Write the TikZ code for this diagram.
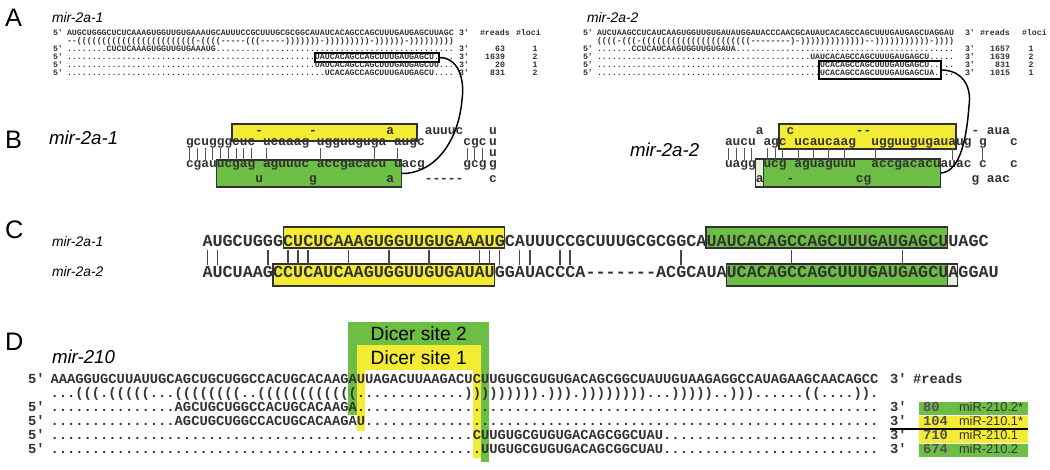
\documentclass[tikz,border=0pt]{standalone}
\usepackage{fontspec}
\setmainfont{Liberation Sans}
\setmonofont{Liberation Mono}
\usepackage{tikz}
\usetikzlibrary{positioning,fit}
\definecolor{mirYellow}{RGB}{244,236,52}
\definecolor{mirGreen}{RGB}{109,190,69}
\definecolor{mirPale}{RGB}{233,240,217}
\definecolor{seqInk}{RGB}{50,50,50}
\definecolor{bondInk}{RGB}{85,85,85}
\ExplSyntaxOn
\NewExpandableDocumentCommand\rpt{mm}{\prg_replicate:nn{#1}{#2}}
\ExplSyntaxOff

\begin{document}
\begin{tikzpicture}[x=0.75pt,y=0.75pt,yscale=-1,xscale=1,
  every node/.style={inner sep=0pt,outer sep=0pt},
  tag/.style={font=\fontsize{19pt}{21pt}\selectfont,anchor=west},
  mirname/.style={font=\fontsize{10.4pt}{12pt}\selectfont\itshape,anchor=west},
  bigname/.style={font=\fontsize{14pt}{16pt}\selectfont\itshape,anchor=west},
  aseq/.style={font=\fontsize{6.2pt}{7pt}\selectfont\ttfamily\bfseries,text=seqInk,anchor=base west},
  bseq/.style={font=\fontsize{9.63pt}{11pt}\selectfont\ttfamily\bfseries,text=seqInk,anchor=base west},
  cseq/.style={font=\fontsize{12.6pt}{14pt}\selectfont\ttfamily\bfseries,text=seqInk,anchor=base west},
  dseq/.style={font=\fontsize{10.35pt}{12pt}\selectfont\ttfamily\bfseries,text=seqInk,anchor=base west},
  mirlab/.style={font=\fontsize{9.6pt}{11pt}\selectfont,text=seqInk,anchor=base west},
  readbox/.style={draw=black,line width=1pt},
  hairbox/.style={draw=seqInk,line width=0.9pt},
  bond/.style={draw=bondInk,line width=0.8pt},
  cbond/.style={draw=seqInk!90,line width=1.15pt},
  link/.style={draw=black,line width=1.1pt},
]
\useasboundingbox (0,0) rectangle (1050,469);

%%%%%%%%%%%%%%%% A
% Text Node
\node[tag] (tagA) at (5,18) {A};
\node[mirname] (nameA1) at (52,18) {mir-2a-1};
\node[mirname] (nameA2) at (587,18) {mir-2a-2};
%Shape: Rectangle
\node[readbox,fit={(315,53) (439,62)}] (boxAl) {};
\node[readbox,fit={(819,61) (941,79)}] (boxAr) {};

% left alignment
\node[aseq] (al5) at (53,35.4) {5'};
\node[aseq] (alS) at (67,35.4) {AUGCUGGGCUCUCAAAGUGGUUGUGAAAUGCAUUUCCGCUUUGCGCGGCAUAUCACAGCCAGCUUUGAUGAGCUUAGC};
\node[aseq] (al3) at (459,35.4) {3'};
\node[aseq] (alReads) at (480,35.4) {\#reads};
\node[aseq] (alLoci) at (516,35.4) {\#loci};
\node[aseq] (alB) at (67,43.4) {\rpt{2}{-}\rpt{24}{(}-\rpt{4}{(}\rpt{5}{-}\rpt{3}{(}\rpt{5}{-}\rpt{7}{)}-\rpt{9}{)}-\rpt{6}{)}-\rpt{9}{)}};
\foreach \y/\r/\n/\l [count=\k] in {
  51.4/{\rpt{8}{.}CUCUCAAAGUGGUUGUGAAAUG\rpt{48}{.}}/63/1,
  59.4/{\rpt{50}{.}UAUCACAGCCAGCUUUGAUGAGCU\rpt{4}{.}}/1639/2,
  67.4/{\rpt{50}{.}UAUCACAGCCAGCUUUGAUGAGCUU\rpt{3}{.}}/20/1,
  75.4/{\rpt{52}{.}UCACAGCCAGCUUUGAUGAGCU\rpt{4}{.}}/831/2}{
  \node[aseq] (al5\k) at (53,\y) {5'};
  \node[aseq] (alR\k) at (67,\y) {\r};
  \node[aseq] (al3\k) at (459,\y) {3'};
  \node[aseq,anchor=base east] (alN\k) at (505,\y) {\n};
  \node[aseq,anchor=base] (alL\k) at (535,\y) {\l};
}

% right alignment
\node[aseq] (ar5) at (583,35.4) {5'};
\node[aseq] (arS) at (597,35.4) {AUCUAAGCCUCAUCAAGUGGUUGUGAUAUGGAUACCCAACGCAUAUCACAGCCAGCUUUGAUGAGCUAGGAU};
\node[aseq] (ar3) at (965,35.4) {3'};
\node[aseq] (arReads) at (980,35.4) {\#reads};
\node[aseq] (arLoci) at (1022,35.4) {\#loci};
\node[aseq] (arB) at (597,43.4) {\rpt{4}{(}-\rpt{3}{(}-\rpt{22}{(}\rpt{8}{-})-\rpt{13}{)}--\rpt{11}{)}-\rpt{4}{)}};
\foreach \y/\r/\n/\l [count=\k] in {
  51.4/{\rpt{7}{.}CCUCAUCAAGUGGUUGUGAUA\rpt{44}{.}}/1657/1,
  59.4/{\rpt{43}{.}UAUCACAGCCAGCUUUGAUGAGCU\rpt{5}{.}}/1639/2,
  67.4/{\rpt{45}{.}UCACAGCCAGCUUUGAUGAGCU\rpt{5}{.}}/831/2,
  75.4/{\rpt{45}{.}UCACAGCCAGCUUUGAUGAGCUA\rpt{4}{.}}/1015/1}{
  \node[aseq] (ar5\k) at (583,\y) {5'};
  \node[aseq] (arR\k) at (597,\y) {\r};
  \node[aseq] (ar3\k) at (965,\y) {3'};
  \node[aseq,anchor=base east] (arN\k) at (1010,\y) {\n};
  \node[aseq,anchor=base] (arL\k) at (1031,\y) {\l};
}

%%%%%%%%%%%%%%%% B
% Text Node
\node[tag] (tagB) at (5,140) {B};
\node[bigname] (nameB1) at (49,138) {mir-2a-1};
\node[bigname] (nameB2) at (630,150) {mir-2a-2};
%Shape: Rectangle
\node[hairbox,fill=mirYellow,fit={(232,124) (417,141)}] (yBl) {};
\node[hairbox,fill=mirGreen,fit={(216.8,160) (401.6,187)}] (gBl) {};
\node[hairbox,fill=mirYellow,fit={(779,124) (956,149)}] (yBr) {};
\node[hairbox,fill=mirPale,fit={(755.8,159) (763.5,187)}] (pBr) {};
\node[hairbox,fill=mirGreen,fit={(763.5,159) (940.6,187)}] (gBr) {};
%Straight Lines
\foreach \c in {0,...,8,10,...,15,17,...,25,27,...,30,36,37,38}
  \draw[bond] ({186+(\c+0.5)*7.7},148) -- ({186+(\c+0.5)*7.7},160);
\foreach \c in {0,...,3,5,6,7,9,...,16,19,...,31,33}
  \draw[bond] ({725+(\c+0.5)*7.7},148) -- ({725+(\c+0.5)*7.7},160);
% hairpin mir-2a-1
\node[bseq] (bl1) at (255.3,134.7) {-~~~~~~-~~~~~~~~~a~~~~auuuc};
\node[bseq] (bl2) at (186,145.7) {gcugggcuc~ucaaag~ugguuguga~augc~~~~~cgc};
\node[bseq] (bl3) at (186,167.7) {cgauucgag~aguuuc~accgacacu~uacg~~~~~gcg};
\node[bseq] (bl4) at (255.3,182.7) {u~~~~~~g~~~~~~~~~a~~~~-----};
\node[bseq] (bl5) at (489,134.7) {u};
\node[bseq] (bl6) at (489,145.2) {u};
\node[bseq] (bl7) at (489,156.8) {u};
\node[bseq] (bl8) at (489,167.7) {g};
\node[bseq] (bl9) at (489,182.7) {c};
% hairpin mir-2a-2
\node[bseq] (br1) at (755.8,134.7) {a~~~c~~~~~~~~--~~~~~~~~~~~~~-~aua};
\node[bseq] (br2) at (725,145.7) {aucu~agc~ucaucaag~~ugguugugauaug~g~~~c};
\node[bseq] (br3) at (725,167.7) {uagg~ucg~aguaguuu~~accgacacuauac~c~~~c};
\node[bseq] (br4) at (755.8,182.7) {a~~~-~~~~~~~~cg~~~~~~~~~~~~~g~aac};

% links A -> B
\draw[link] (boxAl.east) .. controls (458,57.5) and (465,78) .. (462,100) .. controls (458,145) and (432,174) .. (gBl.east);
\draw[link] (boxAr.east) .. controls (962,70) and (972,86) .. (969,106) .. controls (966,146) and (958,172) .. (gBr.east);

%%%%%%%%%%%%%%%% C
% Text Node
\node[tag] (tagC) at (5,230) {C};
\node[mirname] (nameC1) at (52,242) {mir-2a-1};
\node[mirname] (nameC2) at (52,272) {mir-2a-2};
%Shape: Rectangle
\node[hairbox,fill=mirYellow,fit={(283.1,227) (504.6,248)}] (yCt) {};
\node[hairbox,fill=mirGreen,fit={(706,227) (947.7,248)}] (gCt) {};
\node[hairbox,fill=mirYellow,fit={(273,264) (494.5,286)}] (yCb) {};
\node[hairbox,fill=mirGreen,fit={(726.1,264) (947.7,286)}] (gCb) {};
\node[hairbox,fill=mirPale,fit={(947.7,264) (957.8,286)}] (pCb) {};
%Straight Lines
\foreach \i in {0,1,6,8,9,10,14,...,25,27,28,29,31,32,35,36,47,...,73}
  \draw[cbond] ({202.5+(\i+0.5)*10.07},250) -- ++(0,15);
\node[cseq] (cTop) at (202.5,246.5) {AUGCUGGGCUCUCAAAGUGGUUGUGAAAUGCAUUUCCGCUUUGCGCGGCAUAUCACAGCCAGCUUUGAUGAGCUUAGC};
\node[cseq] (cBot) at (202.5,277.8) {AUCUAAGCCUCAUCAAGUGGUUGUGAUAUGGAUACCCA-------ACGCAUAUCACAGCCAGCUUUGAUGAGCUAGGAU};

%%%%%%%%%%%%%%%% D
% Text Node
\node[tag] (tagD) at (5,342) {D};
\node[bigname] (nameD) at (52,357) {mir-210};
%Shape: Dicer sites
\fill[mirGreen] (348.4,322) rectangle (489,345);
\fill[mirGreen] (348.4,345) rectangle (356.7,415);
\fill[mirGreen] (480.8,345) rectangle (489,462);
\fill[mirYellow] (356.7,345) rectangle (480.8,370);
\fill[mirYellow] (356.7,370) rectangle (364.9,431);
\fill[mirYellow] (472.5,370) rectangle (480.8,458);
\node[font=\fontsize{14.4pt}{16pt}\selectfont] (dicer2) at (418.7,333.5) {Dicer site 2};
\node[font=\fontsize{14.4pt}{16pt}\selectfont] (dicer1) at (418.7,357.5) {Dicer site 1};
% table of reads
\node[fill=mirGreen,draw=white,line width=0.4pt,fit={(918,401) (1028,415)}] (t1) {};
\node[fill=mirYellow,draw=white,line width=0.4pt,fit={(918,415) (1028,429)}] (t2) {};
\node[fill=mirYellow,draw=white,line width=0.4pt,fit={(918,429) (1028,443)}] (t3) {};
\node[fill=mirGreen,draw=white,line width=0.4pt,fit={(918,443) (1028,457)}] (t4) {};
% alignment
\node[dseq] (d5) at (28,383.9) {5'};
\node[dseq] (dS) at (50.5,383.9) {AAAGGUGCUUAUUGCAGCUGCUGGCCACUGCACAAGAUUAGACUUAAGACUCUUGUGCGUGUGACAGCGGCUAUUGUAAGAGGCCAUAGAAGCAACAGCC};
\node[dseq] (d3) at (890,383.9) {3'};
\node[dseq] (dReads) at (913,383.9) {\#reads};
\node[dseq] (dB) at (50.5,397.9) {\rpt{3}{.}\rpt{3}{(}.\rpt{5}{(}\rpt{3}{.}\rpt{8}{(}..\rpt{12}{(}\rpt{13}{.}\rpt{9}{)}.\rpt{3}{)}.\rpt{8}{)}\rpt{3}{.}\rpt{5}{)}..\rpt{3}{)}\rpt{6}{.}((\rpt{4}{.})).};
\foreach \y/\r/\n/\m [count=\k] in {
  411.9/{\rpt{15}{.}AGCUGCUGGCCACUGCACAAGA\rpt{63}{.}}/80/miR-210.2*,
  425.9/{\rpt{15}{.}AGCUGCUGGCCACUGCACAAGAU\rpt{62}{.}}/104/miR-210.1*,
  439.9/{\rpt{51}{.}CUUGUGCGUGUGACAGCGGCUAU\rpt{26}{.}}/710/miR-210.1,
  453.9/{\rpt{52}{.}UUGUGCGUGUGACAGCGGCUAU\rpt{26}{.}}/674/miR-210.2}{
  \node[dseq] (d5\k) at (28,\y) {5'};
  \node[dseq] (dR\k) at (50.5,\y) {\r};
  \node[dseq] (d3\k) at (890,\y) {3'};
  \node[dseq,text=seqInk!85] (dN\k) at (923,\y) {\n};
  \node[mirlab] (dM\k) at (959,\y) {\m};
}
%Straight Lines
\draw[line width=1.1pt] (890,429) -- (1028,429);

\end{tikzpicture}
\end{document}
